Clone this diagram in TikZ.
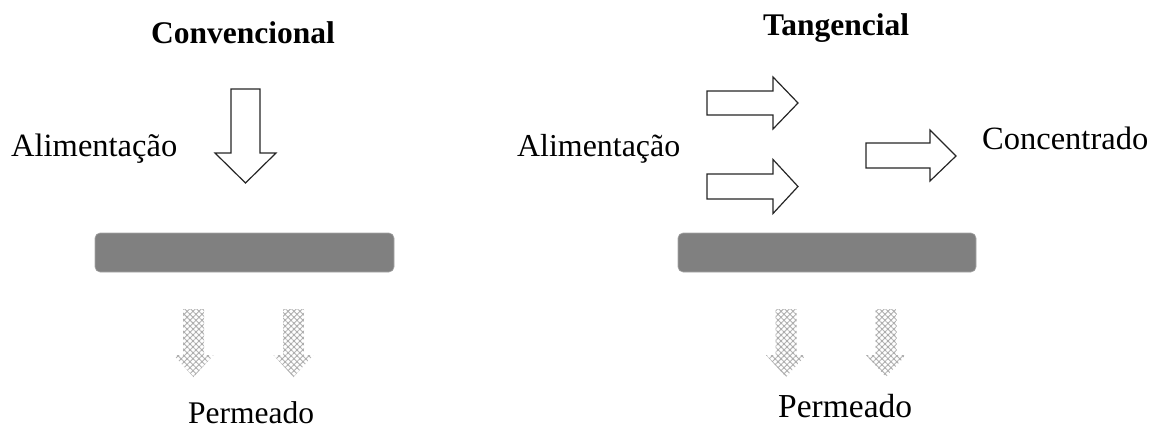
\documentclass[tikz,border=0pt]{standalone}
\usepackage{fontspec}
\setmainfont{Liberation Serif}
\usetikzlibrary{patterns.meta}
\begin{document}
\begin{tikzpicture}[x=1pt,y=-1pt,
  lbl/.style={inner sep=0pt,anchor=base west},
  flow/.style={draw=black!85,line width=1.2pt,fill=white,line join=miter},
  membrane/.style={fill=black!50,draw=black!35,line width=0.6pt,rounded corners=5pt},
  meshA/.style={pattern={Lines[angle=45,distance=4.2pt,line width=0.9pt]},pattern color=black!32},
  meshB/.style={pattern={Lines[angle=-45,distance=4.2pt,line width=0.9pt]},pattern color=black!32}
]
\useasboundingbox (0,0) rectangle (1152,439);

% ---- titles ----
\node[lbl] (tconv) at (151,43) {\fontsize{31.5}{36}\selectfont\bfseries Convencional};
\node[lbl] (ttang) at (763,35) {\fontsize{31.5}{36}\selectfont\bfseries Tangencial};

% ---- labels ----
\node[lbl] (alimL) at (11,156) {\fontsize{32.5}{38}\selectfont Alimentação};
\node[lbl] (alimR) at (517,156) {\fontsize{31.9}{36}\selectfont Alimentação};
\node[lbl] (conc) at (982,149) {\fontsize{32.5}{37}\selectfont Concentrado};
\node[lbl] (permL) at (188,423) {\fontsize{31.5}{36}\selectfont Permeado};
\node[lbl] (permR) at (778,417) {\fontsize{33.5}{40}\selectfont Permeado};

% ---- membranes ----
\path[membrane] (95,233) rectangle (394,272);
\path[membrane] (678,233) rectangle (976,272);

% ---- dead-end feed arrow ----
\draw[flow] (231,89) -- (260,89) -- (260,153) -- (276,153) -- (245.5,183)
  -- (215,153) -- (231,153) -- cycle;

% ---- cross-flow feed arrows ----
\foreach \yc/\hh/\sh in {103/26/12, 186.5/27/12.5}{
  \draw[flow] (707,\yc-\sh) -- (773,\yc-\sh) -- (773,\yc-\hh) -- (798,\yc)
    -- (773,\yc+\hh) -- (773,\yc+\sh) -- (707,\yc+\sh) -- cycle;
}
% concentrate outlet
\draw[flow] (866,143) -- (930,143) -- (930,130) -- (956,156) -- (930,181)
  -- (930,168) -- (866,168) -- cycle;

% ---- permeate arrows (meshed) ----
\foreach \xc in {193.5,293.5,786,886}{
  \foreach \m in {meshA,meshB}{
    \path[\m] (\xc-10.5,309) -- (\xc+10.5,309) -- (\xc+10.5,355) -- (\xc+20,355)
      -- (\xc,377) -- (\xc-20,355) -- (\xc-10.5,355) -- cycle;
  }
}
\end{tikzpicture}
\end{document}
